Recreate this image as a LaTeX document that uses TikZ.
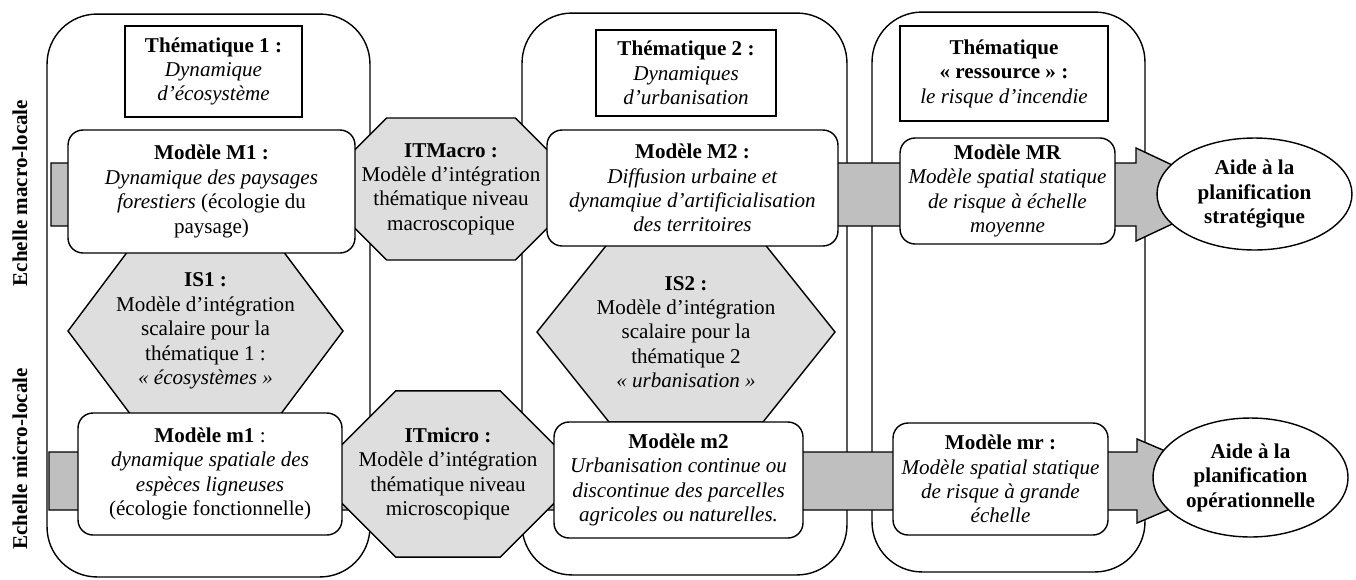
\documentclass[tikz,border=0pt]{standalone}
\usepackage{fontspec}
\setmainfont{Liberation Serif}
\usetikzlibrary{shapes.geometric, shapes.misc}

\begin{document}
\begin{tikzpicture}[x=0.02cm, y=-0.02cm, line width=0.8pt,
  font=\fontsize{12}{13.9}\selectfont]

\tikzset{column/.style = {draw, rounded corners=1cm}}
\tikzset{theme/.style = {draw, fill=white, align=center, inner sep=1pt}}
\tikzset{model/.style = {draw, fill=white, rounded corners=0.3cm, align=center, inner sep=1pt}}
\tikzset{hexa/.style = {draw, fill=black!13, line join=miter}}
\tikzset{hexatext/.style = {align=center, inner sep=0pt}}
\tikzset{octa/.style = {draw, fill=black!13, chamfered rectangle, align=center, inner sep=0pt}}
\tikzset{bigarrow/.style = {draw, fill=black!25, line join=miter}}
\tikzset{aide/.style = {draw, fill=white, ellipse, align=center, inner sep=0pt, font=\fontsize{12}{13.9}\selectfont\bfseries}}
\tikzset{scale label/.style = {rotate=90, font=\fontsize{12}{13.9}\selectfont\bfseries}}

\useasboundingbox (0,0) rectangle (1356,579);

%columns
\node[column, minimum width=6.46cm, minimum height=11.26cm] (col1) at (208.5,295.5) {};
\node[column, minimum width=6.5cm, minimum height=11.24cm] (col2) at (684.5,294) {};
\node[column, minimum width=5.46cm, minimum height=11.2cm] (col3) at (1008.5,292) {};

%arrows
\coordinate (macroin) at (51,194.5);
\coordinate (microin) at (49,481);
\draw[bigarrow] (macroin) ++(0,-31.5) -- ++(1085,0) -- ++(0,-15) -- ++(99,46.5)
  -- ++(-99,46.5) -- ++(0,-15) -- ++(-1085,0) -- cycle;
\draw[bigarrow] (microin) ++(0,-29) -- ++(1088,0) -- ++(0,-13) -- ++(99,42)
  -- ++(-99,42) -- ++(0,-13) -- ++(-1088,0) -- cycle;

%integration models
\coordinate (is1c) at (205.5,331);
\coordinate (is2c) at (686,332);
\draw[hexa] (is1c) ++(-137.5,0) -- ++(66,-88) -- ++(143,0) -- ++(66,88)
  -- ++(-66,88) -- ++(-143,0) -- cycle;
\draw[hexa] (is2c) ++(-149,0) -- ++(72,-90) -- ++(154,0) -- ++(72,90)
  -- ++(-72,90) -- ++(-154,0) -- cycle;
\node[hexatext] (is1) at (is1c)
  {\textbf{IS1 :}\\Modèle d’intégration\\scalaire pour la\\thématique 1 :\\\textit{« écosystèmes »}};
\node[hexatext] (is2) at (is2c)
  {\textbf{IS2 :}\\Modèle d’intégration\\scalaire pour la\\thématique 2\\\textit{« urbanisation »}};
\node[octa, minimum width=3.84cm, minimum height=2.84cm, chamfered rectangle xsep=0.42cm,
  chamfered rectangle ysep=0.5cm] (itmacro) at (451,189)
  {\textbf{ITMacro :}\\Modèle d’intégration\\thématique niveau\\macroscopique};
\node[octa, minimum width=4.24cm, minimum height=2.8cm, chamfered rectangle xsep=0.74cm,
  chamfered rectangle ysep=0.74cm] (itmicro) at (448,474)
  {\textbf{ITmicro :}\\Modèle d’intégration\\thématique niveau\\microscopique};

%themes
\node[theme, minimum width=3.54cm, minimum height=1.82cm] (th1) at (213.5,71.5)
  {\textbf{Thématique 1 :}\\\textit{Dynamique}\\\textit{d’écosystème}};
\node[theme, minimum width=3.6cm, minimum height=1.72cm] (th2) at (686,73)
  {\textbf{Thématique 2 :}\\\textit{Dynamiques}\\\textit{d’urbanisation}};
\node[theme, minimum width=4.16cm, minimum height=1.9cm] (th3) at (1004,73.5)
  {\textbf{Thématique}\\\textbf{« ressource » :}\\\textit{le risque d’incendie}};

%models
\node[model, minimum width=5.74cm, minimum height=2.46cm] (M1) at (211.5,191.5)
  {\textbf{Modèle M1 :}\\\textit{Dynamique des paysages}\\\textit{forestiers} (écologie du\\paysage)};
\node[model, minimum width=5.82cm, minimum height=2.32cm] (M2) at (692.5,188)
  {\textbf{Modèle M2 :}\\\textit{Diffusion urbaine et}\\\textit{dynamqiue d’artificialisation}\\\textit{des territoires}};
\node[model, minimum width=4.3cm, minimum height=2.12cm] (MR) at (1007.5,191)
  {\textbf{Modèle MR}\\\textit{Modèle spatial statique}\\\textit{de risque à échelle}\\\textit{moyenne}};
\node[model, minimum width=5.28cm, minimum height=2.44cm] (m1) at (210,474)
  {\textbf{Modèle m1} :\\\textit{dynamique spatiale des}\\\textit{espèces ligneuses}\\(écologie fonctionnelle)};
\node[model, minimum width=4.98cm, minimum height=2.32cm] (m2) at (678.5,480)
  {\textbf{Modèle m2}\\\textit{Urbanisation continue ou}\\\textit{discontinue des parcelles}\\\textit{agricoles ou naturelles.}};
\node[model, minimum width=4.3cm, minimum height=2.24cm] (mr) at (1000.5,479)
  {\textbf{Modèle mr :}\\\textit{Modèle spatial statique}\\\textit{de risque à grande}\\\textit{échelle}};

%outputs
\node[aide, minimum width=3.9cm, minimum height=2.24cm] (strat) at (1254.5,194)
  {Aide à la\\planification\\stratégique};
\node[aide, minimum width=3.9cm, minimum height=2.38cm] (oper) at (1250.5,477.5)
  {Aide à la\\planification\\opérationnelle};

%scales
\node[scale label] (macro) at (20,193) {Echelle macro-locale};
\node[scale label] (micro) at (20,459) {Echelle micro-locale};

\end{tikzpicture}
\end{document}
